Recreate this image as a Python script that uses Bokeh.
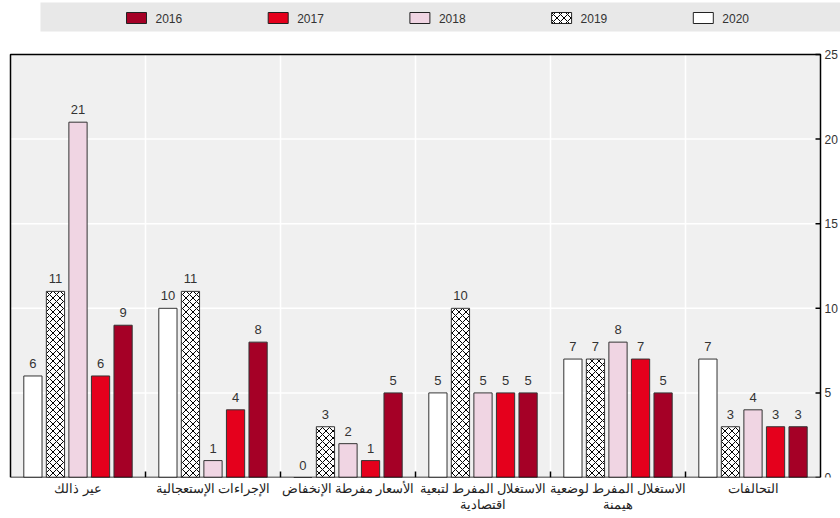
from bokeh.plotting import figure
from bokeh.models import ColumnDataSource, Range1d, FixedTicker
from bokeh.core.properties import value
from bokeh.embed import file_html
from bokeh.resources import INLINE

categories = [
    "عير ذالك",
    "الإجراءات الإستعجالية",
    "الأسعار مفرطة الإنخفاض",
    "الاستغلال المفرط لتبعية\nاقتصادية",
    "الاستغلال المفرط لوضعية\nهيمنة",
    "التحالفات",
]
years = ["2020", "2019", "2018", "2017", "2016"]
values_2020 = [6, 10, 0, 5, 7, 7]
values_2019 = [11, 11, 3, 10, 7, 3]
values_2018 = [21, 1, 2, 5, 8, 4]
values_2017 = [6, 4, 1, 5, 7, 3]
values_2016 = [9, 8, 5, 5, 5, 3]
series = {"2020": values_2020, "2019": values_2019, "2018": values_2018,
          "2017": values_2017, "2016": values_2016}
colors = {"2020": "#FFFFFF", "2019": "#FFFFFF", "2018": "#F0D5E3",
          "2017": "#E5001C", "2016": "#A50026"}
legend_order = ["2016", "2017", "2018", "2019", "2020"]
y_ticks = [0, 5, 10, 15, 20, 25]

FONT = "Liberation Sans"

# ---------- layout geometry (pixels) ----------
W, H = 840, 518
BOTTOM = 41                 # space for category labels
PLOT_L, PLOT_R = 10, 820    # plot-area edges on the canvas
PLOT_T = 54                 # plot-area top on the canvas
N = len(categories)
YMAX = y_ticks[-1]
PXX = (PLOT_R - PLOT_L) / N            # px per category
PXY = (H - BOTTOM - PLOT_T) / YMAX     # px per value unit


def cx(canvas_x):
    return (canvas_x - PLOT_L) / PXX


def cy(canvas_y):
    return YMAX + (PLOT_T - canvas_y) / PXY


p = figure(width=W, height=H,
           x_range=Range1d(cx(0), cx(W)), y_range=Range1d(0, cy(0)),
           output_backend="svg", toolbar_location=None, y_axis_location=None,
           min_border_left=0, min_border_right=0, min_border_top=0,
           min_border_bottom=BOTTOM)
p.background_fill_color = "white"
p.border_fill_color = "white"
p.outline_line_color = None
p.grid.visible = False

# plot-area background
p.quad(left=[0], right=[N], bottom=[0], top=[YMAX], fill_color="#F0F0F0", line_color=None)
# horizontal grid lines
inner = [t for t in y_ticks if 0 < t < YMAX]
p.segment(x0=[0] * len(inner), x1=[N] * len(inner), y0=inner, y1=inner,
          line_color="white", line_width=1.5)
# category separators
bounds = list(range(1, N))
p.segment(x0=bounds, x1=bounds, y0=[0] * len(bounds), y1=[YMAX] * len(bounds),
          line_color="white", line_width=1.5)

# bars and value labels
offsets = [-0.334, -0.167, 0.0, 0.167, 0.334]
hatch_kw = dict(hatch_pattern="x", hatch_color="black", hatch_scale=7, hatch_weight=1)
centers = [i + 0.5 for i in range(N)]
for yr, off in zip(years, offsets):
    src = ColumnDataSource(dict(x=[c + off for c in centers], val=series[yr],
                                lbl=[str(v) for v in series[yr]]))
    kw = dict(fill_color=colors[yr], line_color="#333333", line_width=1)
    if yr == "2019":
        kw.update(hatch_kw)
    p.vbar(x="x", top="val", width=0.135, source=src, **kw)
    p.text(x="x", y="val", text="lbl", source=src,
           text_font=value(FONT), text_font_size="13px", text_color="#333333",
           text_align="center", text_baseline="bottom", y_offset=-8)

# frame: left, top, right, bottom
p.line(x=[0, 0, N, N], y=[0, YMAX, YMAX, 0], line_color="black", line_width=1.5)
p.segment(x0=[0], x1=[N], y0=[0], y1=[0], line_color="black", line_width=1.5)
# small ticks at category boundaries (bottom)
p.segment(x0=bounds, x1=bounds, y0=[0] * len(bounds), y1=[6 / PXY] * len(bounds),
          line_color="black", line_width=1.5)
# value-axis ticks on the right edge (pointing inward) and their labels
p.segment(x0=[N - 5 / PXX] * len(y_ticks), x1=[N] * len(y_ticks), y0=y_ticks, y1=y_ticks,
          line_color="black", line_width=1.5)
p.text(x=[N] * len(y_ticks), y=y_ticks, text=[str(t) for t in y_ticks],
       x_offset=4, text_font=value(FONT), text_font_size="12px", text_color="#333333",
       text_align="left", text_baseline="middle")

# category axis (bottom)
xa = p.xaxis[0]
xa.ticker = FixedTicker(ticks=centers)
xa.major_label_overrides = {c: cat for c, cat in zip(centers, categories)}
xa.axis_line_color = None
xa.major_tick_line_color = None
xa.major_tick_in = 0
xa.major_tick_out = 0
xa.minor_tick_line_color = None
xa.major_label_text_font = FONT
xa.major_label_text_font_size = "12.5px"
xa.major_label_text_color = "#222222"
xa.major_label_standoff = 4

# legend band
p.quad(left=[cx(40)], right=[cx(W)], top=[cy(2)], bottom=[cy(31)],
       fill_color="#E8E8E8", line_color=None)
for i, yr in enumerate(legend_order):
    x0 = 126 + i * 141.7
    kw = dict(fill_color=colors[yr], line_color="#222222", line_width=1)
    if yr == "2019":
        kw.update(hatch_kw)
    p.quad(left=[cx(x0)], right=[cx(x0 + 20)], top=[cy(12)], bottom=[cy(23)], **kw)
    p.text(x=[cx(x0 + 29)], y=[cy(17.5)], text=[yr], text_font=value(FONT),
           text_font_size="12px", text_color="#333333",
           text_baseline="middle", text_align="left")

open("out.html", "w").write(file_html(p, INLINE))
